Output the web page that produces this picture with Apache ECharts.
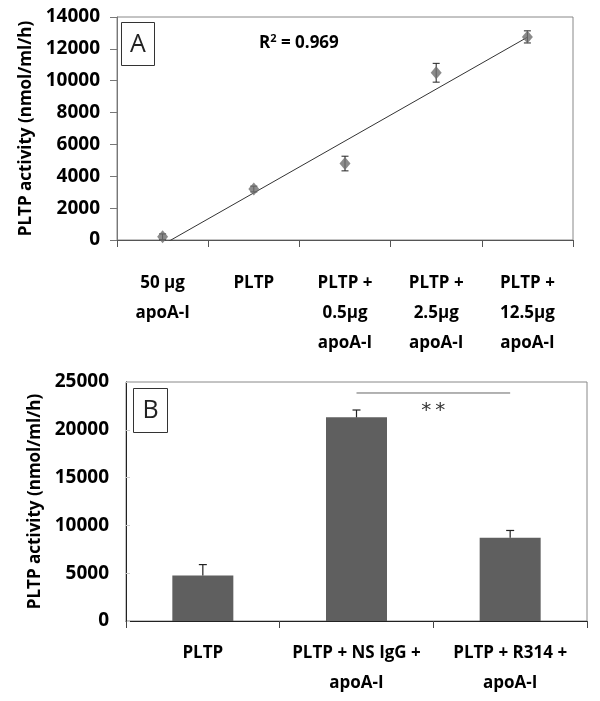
<!DOCTYPE html>
<html>
<head>
<meta charset="utf-8">
<script src="https://cdn.jsdelivr.net/npm/echarts@6/dist/echarts.min.js"></script>
<style>html,body{margin:0;padding:0;background:#fff}#c{width:600px;height:701px}</style>
</head>
<body>
<div id="c"></div>
<script>
// Panel A data
var catsA = ['50 µg\napoA-I', 'PLTP', 'PLTP +\n0.5µg\napoA-I', 'PLTP +\n2.5µg\napoA-I', 'PLTP +\n12.5µg\napoA-I'];
var valsA = [200, 3200, 4800, 10500, 12750];
var errsA = [180, 180, 460, 590, 380];
var trendIdxA = [0, 4];
var trendValA = [-300, 12730];
var r2Text = '0.969';
var yTicksA = { min: 0, max: 14000, interval: 2000 };

// Panel B data
var catsB = ['PLTP', 'PLTP + NS IgG +\napoA-I', 'PLTP + R314 +\napoA-I'];
var valsB = [4750, 21300, 8700];
var errsB = [1150, 770, 770];
var sigFrom = 1, sigTo = 2, sigLineVal = 23850, sigStarVal = 22000, sigLabel = '**';
var yTicksB = { min: 0, max: 25000, interval: 5000 };

var FONT = '"Open Sans", sans-serif';
var chart = echarts.init(document.getElementById('c'), null, { renderer: 'canvas' });

function errA(params, api) {
  var x = api.value(0), v = api.value(1), e = api.value(2);
  var top = api.coord([x, v + e]), bot = api.coord([x, v - e]);
  var hw = 3.5;
  var st = { stroke: '#222', lineWidth: 1 };
  return { type: 'group', children: [
    { type: 'line', shape: { x1: top[0], y1: top[1], x2: bot[0], y2: bot[1] }, style: st },
    { type: 'line', shape: { x1: top[0] - hw, y1: top[1], x2: top[0] + hw, y2: top[1] }, style: st },
    { type: 'line', shape: { x1: bot[0] - hw, y1: bot[1], x2: bot[0] + hw, y2: bot[1] }, style: st }
  ]};
}
function errB(params, api) {
  var x = api.value(0), v = api.value(1), e = api.value(2);
  var top = api.coord([x, v + e]), base = api.coord([x, v]);
  var hw = 4;
  var st = { stroke: '#222', lineWidth: 1.2 };
  return { type: 'group', children: [
    { type: 'line', shape: { x1: top[0], y1: top[1], x2: base[0], y2: base[1] }, style: st },
    { type: 'line', shape: { x1: top[0] - hw, y1: top[1], x2: top[0] + hw, y2: top[1] }, style: st }
  ]};
}
function sigRender(params, api) {
  var a = api.coord([api.value(0), api.value(2)]);
  var b = api.coord([api.value(1), api.value(2)]);
  var s = api.coord([api.value(0), api.value(3)]);
  var mx = (a[0] + b[0]) / 2;
  var chars = sigLabel.split('');
  var gap = 14;
  var kids = [
    { type: 'line', shape: { x1: a[0], y1: a[1], x2: b[0], y2: b[1] }, style: { stroke: '#666', lineWidth: 1 } }
  ];
  chars.forEach(function (ch, i) {
    kids.push({ type: 'text', x: mx + (i - (chars.length - 1) / 2) * gap, y: s[1],
      style: { text: ch, fill: '#333', font: '20px "DejaVu Sans"', align: 'center', verticalAlign: 'middle' } });
  });
  return { type: 'group', children: kids };
}

function plain(v) { return String(v); }
var axisLabelY = { color: '#000', fontFamily: FONT, fontWeight: 'bold', fontSize: 19, margin: 17, formatter: plain };
var nameStyle = { color: '#000', fontFamily: FONT, fontWeight: 'bold', fontSize: 17 };

var option = {
  animation: false,
  backgroundColor: '#fff',
  grid: [
    { left: 117, top: 17, width: 456, height: 223, show: true, borderColor: '#888', borderWidth: 1, backgroundColor: 'transparent' },
    { left: 126, top: 382, width: 461, height: 239, show: true, borderColor: '#888', borderWidth: 1, backgroundColor: 'transparent' }
  ],
  xAxis: [
    { type: 'category', gridIndex: 0, data: catsA, boundaryGap: true,
      axisLine: { lineStyle: { color: '#555', width: 1 } },
      axisTick: { show: true, length: 7, lineStyle: { color: '#555' } },
      axisLabel: { color: '#000', fontFamily: FONT, fontWeight: 'bold', fontSize: 17, lineHeight: 30, margin: 28, interval: 0 } },
    { type: 'category', gridIndex: 1, data: catsB, boundaryGap: true,
      axisLine: { lineStyle: { color: '#222', width: 1 } },
      axisTick: { show: true, length: 7, lineStyle: { color: '#444' } },
      axisLabel: { color: '#000', fontFamily: FONT, fontWeight: 'bold', fontSize: 17, lineHeight: 30, margin: 17, interval: 0 } }
  ],
  yAxis: [
    { type: 'value', gridIndex: 0, min: yTicksA.min, max: yTicksA.max, interval: yTicksA.interval,
      name: 'PLTP activity (nmol/ml/h)', nameLocation: 'middle', nameGap: 72, nameTextStyle: nameStyle,
      axisLine: { show: true, lineStyle: { color: '#777' } },
      axisTick: { show: true, length: 7, lineStyle: { color: '#777' } },
      splitLine: { show: false }, axisLabel: axisLabelY },
    { type: 'value', gridIndex: 1, min: yTicksB.min, max: yTicksB.max, interval: yTicksB.interval,
      name: 'PLTP activity (nmol/ml/h)', nameLocation: 'middle', nameGap: 68, nameTextStyle: nameStyle,
      axisLine: { show: true, lineStyle: { color: '#222' } },
      axisTick: { show: true, inside: true, length: 4, lineStyle: { color: '#ccc' } },
      splitLine: { show: false }, axisLabel: axisLabelY }
  ],
  series: [
    { type: 'line', xAxisIndex: 0, yAxisIndex: 0, data: trendIdxA.map(function (x, i) { return [x, trendValA[i]]; }),
      showSymbol: false, clip: true, lineStyle: { color: '#333', width: 1 }, z: 2 },
    { type: 'custom', xAxisIndex: 0, yAxisIndex: 0, renderItem: errA,
      data: valsA.map(function (v, i) { return [i, v, errsA[i]]; }), z: 3 },
    { type: 'scatter', xAxisIndex: 0, yAxisIndex: 0, data: valsA.map(function (v, i) { return [i, v]; }),
      symbol: 'diamond', symbolSize: [11, 13], itemStyle: { color: '#6e6e6e' }, z: 4 },
    { type: 'bar', xAxisIndex: 1, yAxisIndex: 1, data: valsB, barWidth: 61,
      itemStyle: { color: '#5f5f5f' }, z: 2 },
    { type: 'custom', xAxisIndex: 1, yAxisIndex: 1, renderItem: errB,
      data: valsB.map(function (v, i) { return [i, v, errsB[i]]; }), z: 3 },
    { type: 'custom', xAxisIndex: 1, yAxisIndex: 1, renderItem: sigRender,
      data: [[sigFrom, sigTo, sigLineVal, sigStarVal]], z: 3 }
  ],
  graphic: [
    { type: 'group', left: 121, top: 22, children: [
      { type: 'rect', shape: { x: 0, y: 0, width: 33, height: 43 }, style: { fill: '#fff', stroke: '#333', lineWidth: 1 } },
      { type: 'text', x: 16.5, y: 22, style: { text: 'A', font: '25px "Open Sans", sans-serif', fill: '#222', align: 'center', verticalAlign: 'middle' } }
    ]},
    { type: 'group', left: 133, top: 388, children: [
      { type: 'rect', shape: { x: 0, y: 0, width: 34, height: 44 }, style: { fill: '#fff', stroke: '#333', lineWidth: 1 } },
      { type: 'text', x: 17, y: 22, style: { text: 'B', font: '25px "Open Sans", sans-serif', fill: '#222', align: 'center', verticalAlign: 'middle' } }
    ]},
    { type: 'text', x: 259, y: 43, style: {
      text: '{r|R}{s|2}{r| = ' + r2Text + '}',
      verticalAlign: 'middle',
      rich: {
        r: { fontFamily: FONT, fontWeight: 'bold', fontSize: 17, fill: '#000', color: '#000' },
        s: { fontFamily: FONT, fontWeight: 'bold', fontSize: 11, fill: '#000', color: '#000', verticalAlign: 'top', padding: [0, 0, 8, 0] }
      } } }
  ]
};
chart.setOption(option);
</script>
</body>
</html>
